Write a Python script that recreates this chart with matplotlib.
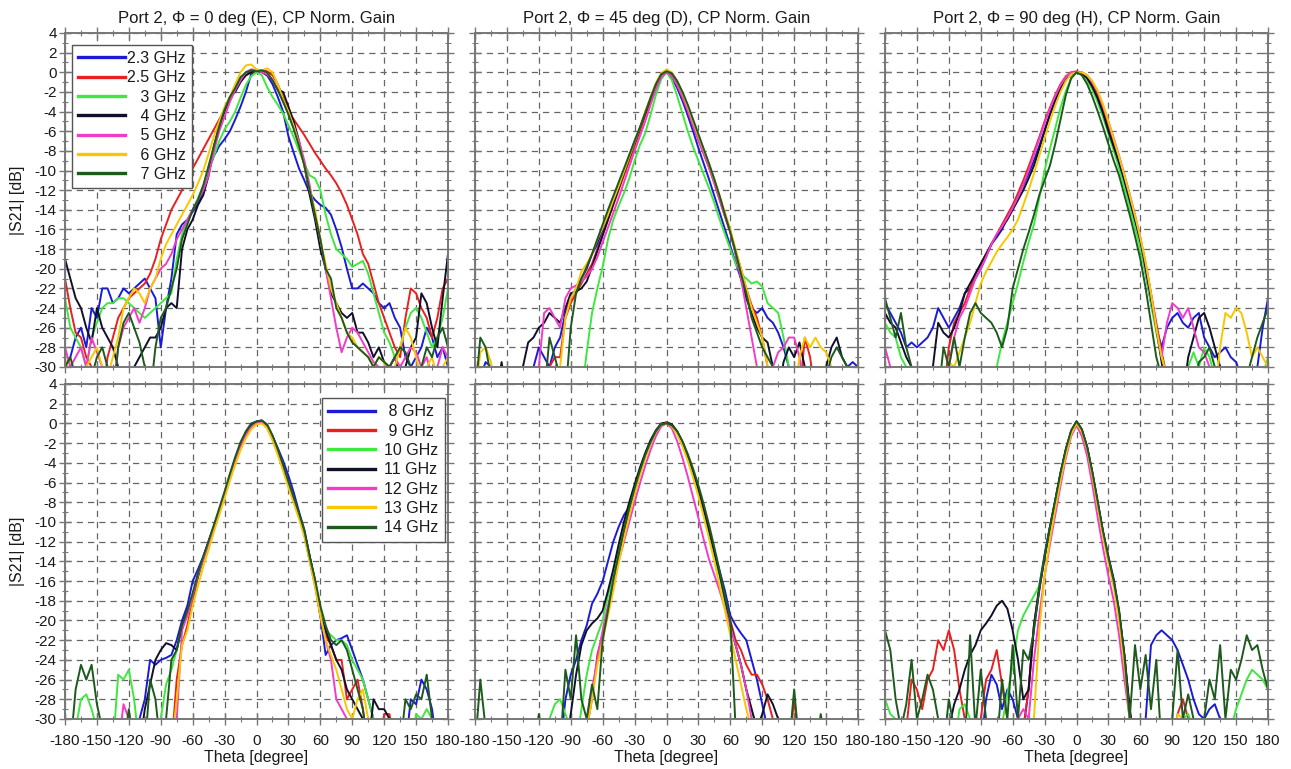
import matplotlib
matplotlib.use('Agg')
import matplotlib.pyplot as plt
from matplotlib.ticker import MultipleLocator

plt.rcParams['font.family'] = ['Liberation Sans', 'DejaVu Sans']
plt.rcParams['axes.unicode_minus'] = False

THETA = list(range(-180, 181, 5))

LOW_LABELS = ['2.3 GHz', '2.5 GHz', '   3 GHz', '   4 GHz', '   5 GHz', '   6 GHz', '   7 GHz']
HIGH_LABELS = [' 8 GHz', ' 9 GHz', '10 GHz', '11 GHz', '12 GHz', '13 GHz', '14 GHz']
COLORS = ['#1a1ad8', '#e82020', '#3ee83e', '#10102a', '#f23cc8', '#f7c800', '#1d5a1d']
TITLES = ['Port 2, \u03a6 = 0 deg (E), CP Norm. Gain',
          'Port 2, \u03a6 = 45 deg (D), CP Norm. Gain',
          'Port 2, \u03a6 = 90 deg (H), CP Norm. Gain']

# ---------------- Phi = 0 (E), 2.3 - 7 GHz ----------------
E23 = [-30, -29, -27, -26, -28, -24, -25, -22, -22, -23.5, -23, -22,
       -22.5, -22, -21.5, -21, -22, -23, -28, -24, -21, -16.5, -15.5, -15,
       -14.2, -13.4, -12, -10, -8.5, -7.5, -6.8, -6, -4.8, -3.5, -2, -0.2,
       0.2, 0.1, -0.3, -1.2, -2.5, -4, -6.5, -8.2, -9.8, -11, -12.3, -13,
       -13.5, -13.8, -14.5, -16, -17.8, -20, -22, -22, -21.5, -22, -22.5, -23.5,
       -24, -23.5, -25, -26, -29, -30, -29, -28, -26, -27, -29, -28, -30]
E25 = [-21, -24, -26.5, -27, -29, -30, -33, -33, -29, -27, -25, -24,
       -23, -22.5, -22, -21.5, -20.5, -19, -17, -15.5, -14, -13, -12, -11,
       -9.8, -8.8, -7.8, -6.8, -5.8, -4.8, -3.8, -2.8, -1.8, -0.9, -0.3, 0,
       0.1, 0.2, 0.1, -0.3, -1.2, -2.6, -4, -4.8, -5.6, -6.4, -7.3, -8.2,
       -9, -9.8, -10.5, -11.3, -12.3, -13.5, -15, -16.5, -18.5, -19.5, -21.5, -23.5,
       -25, -26.5, -28, -29, -25, -22, -22.5, -24, -25, -27, -25, -22, -21]
E3 = [-23, -26, -27, -28, -30, -27, -25.5, -24, -23.5, -23.5, -23, -23,
      -23.5, -24, -24.5, -25, -24.5, -24, -23.5, -23, -22.5, -19, -16.5, -15,
      -14, -12.8, -11.5, -10, -8.5, -7, -5.8, -5, -4, -2.6, -1.3, -0.4,
      0, -0.3, -1.5, -2.5, -3.3, -4.2, -5.4, -6.6, -8, -9.3, -10.5, -10.8,
      -12, -14.5, -16.5, -18, -18.5, -19, -19.8, -19.5, -19.2, -20.5, -22.5, -24.5,
      -26.5, -27.5, -29, -28, -26, -24.5, -24, -25, -26.5, -28, -27, -25, -22]
E4 = [-19, -21, -23, -24, -26, -27.5, -24, -26, -27, -28, -30, -33,
      -33, -30, -29, -28, -27, -27, -26, -24, -23.5, -24, -18, -16,
      -15, -13.5, -12.5, -10.5, -7.5, -5.5, -4, -2.5, -2, -1, -0.3, 0,
      0.2, 0, -0.3, -0.8, -1.8, -2, -3.5, -5, -7, -9.5, -12.5, -15,
      -18, -20, -22.5, -23.5, -24.5, -25, -24.5, -26.5, -26.5, -27.5, -29, -28,
      -29.5, -30, -29, -31, -30, -28, -27, -22.5, -23.5, -26, -28, -23, -18.5]
E5 = [-28, -30, -29, -28, -30, -27, -28.5, -30, -33, -33, -28, -26,
      -25, -24, -25.5, -24, -22, -21, -20, -19.5, -18.5, -17, -16, -15,
      -14, -13, -12, -10.5, -8, -6, -4.5, -3, -1.8, -0.8, 0, 0.3,
      0.2, 0, -0.2, -0.8, -1.8, -3, -4.2, -5.5, -7, -9, -11.5, -14.5,
      -17, -20, -23, -26, -28.5, -27, -26, -26.5, -27.5, -28.5, -29.5, -30,
      -31, -30, -29, -30, -29, -28, -28.5, -30, -29, -31, -30, -28, -29]
E6 = [-29, -31, -33, -33, -30, -29, -28, -30, -31, -29, -27, -24,
      -23, -22, -22.5, -23.5, -22, -21, -19, -17.5, -16.5, -15.5, -14.5, -13.5,
      -12.5, -11.3, -10, -8.3, -6.5, -5, -3.5, -2.5, -1.2, 0, 0.7, 0.8,
      0.3, 0.2, 0.4, 0, -1.2, -2.8, -4, -5.5, -7.5, -9.5, -12, -14,
      -17, -19.5, -22, -23.5, -25, -26.5, -27, -28, -28.5, -29, -30, -29,
      -29.5, -31, -30, -28, -26, -27, -29, -31, -30, -29, -31, -30, -29]
E7 = [-30, -29, -31, -33, -33, -31, -29, -28, -30, -33, -28, -25.5,
      -24.5, -26, -27.5, -30, -33, -28, -25, -24, -22, -20, -17, -15.5,
      -14, -13, -11.5, -9.5, -7.5, -5.5, -3.8, -2.5, -1.6, -0.5, 0, 0.2,
      0.1, 0.2, 0, -0.8, -1.8, -3, -4.3, -5.8, -7.5, -9.5, -12, -14.5,
      -17, -20, -21, -24, -25, -26.5, -27.5, -28, -28.5, -29, -30, -29,
      -29.5, -30, -29, -28, -28.5, -30, -31, -30, -28, -29, -27, -26, -28]

# ---------------- Phi = 0 (E), 8 - 14 GHz ----------------
E8 = [-33, -33, -33, -33, -33, -33, -33, -33, -33, -33, -33, -33,
      -33, -33, -30, -28, -24, -24.5, -24, -23.8, -23.5, -22, -20, -18.5,
      -16, -14.8, -13.5, -12, -10.5, -9, -7.3, -5.5, -3.8, -2.3, -1.1, -0.3,
      0.1, 0.2, -0.3, -1.3, -2.5, -3.8, -5.3, -7, -9, -10.8, -13.5, -16,
      -19.5, -23.5, -22.5, -22, -21.8, -21.5, -23, -24.5, -26, -28, -30, -33,
      -33, -33, -33, -33, -33, -28, -28.5, -26, -27, -29, -33, -33, -33]
E9 = [-33, -33, -33, -33, -33, -33, -33, -33, -33, -33, -33, -33,
      -33, -33, -33, -33, -33, -33, -33, -33, -33, -26, -22.5, -20.5,
      -18, -15.6, -13.8, -12.2, -10.6, -9, -7.4, -5.6, -4, -2.5, -1.3, -0.5,
      0, 0.1, -0.4, -1.6, -3, -4.6, -6.3, -7.9, -9.5, -11.3, -13.8, -16.2,
      -19.5, -21.5, -22.5, -24, -24, -28, -27, -26, -29, -33, -33, -33,
      -29.5, -29.5, -33, -33, -33, -33, -33, -33, -33, -33, -33, -33, -33]
E10 = [-33, -33, -31, -28, -27.5, -29, -31, -33, -33, -33, -25.5, -26,
       -25, -28, -33, -33, -33, -33, -30, -26.5, -25, -23, -20.5, -19.5,
       -17.5, -15.5, -13.8, -12.2, -10.5, -8.8, -7.2, -5.4, -3.8, -2.3, -1.1, -0.3,
       0.1, 0.2, -0.3, -1.4, -2.8, -4.4, -6.1, -7.7, -9.3, -11, -13.5, -16,
       -19, -21, -21.5, -22, -22, -22.5, -24, -25, -26, -28, -30, -33,
       -33, -33, -33, -33, -33, -33, -29.5, -30, -29, -30, -33, -33, -33]
E11 = [-33, -33, -33, -33, -33, -33, -33, -33, -33, -33, -33, -33,
       -33, -33, -33, -29, -26.5, -24, -23, -22.3, -22.5, -23, -20.5, -19,
       -17.5, -15.5, -13.6, -12, -10.4, -8.8, -7.1, -5.3, -3.6, -2.1, -0.9, -0.1,
       0.2, 0.3, -0.2, -1.3, -2.7, -4.3, -6, -7.6, -9.2, -11, -13.5, -16,
       -19.5, -21, -22.5, -24, -25, -27, -28, -29, -30, -33, -28, -29,
       -29, -30, -33, -33, -33, -33, -33, -33, -33, -33, -33, -33, -33]
E12 = [-33, -33, -33, -33, -33, -33, -33, -33, -33, -33, -33, -28.5,
       -30, -33, -33, -33, -33, -33, -33, -33, -33, -30, -21, -19.5,
       -17.5, -15.4, -13.8, -12.2, -10.6, -9, -7.3, -5.5, -3.9, -2.4, -1.2, -0.4,
       0, 0.1, -0.4, -1.6, -3, -4.6, -6.3, -7.9, -9.5, -11.3, -14, -16.5,
       -19.5, -22, -24, -28, -29, -30, -33, -33, -33, -33, -33, -33,
       -33, -33, -33, -33, -33, -33, -33, -33, -33, -33, -33, -33, -33]
E13 = [-33, -33, -33, -33, -33, -33, -33, -33, -33, -33, -33, -33,
       -33, -33, -33, -33, -33, -33, -30, -33, -33, -28, -22.5, -21,
       -18.5, -16.5, -14.5, -12.8, -11, -9.3, -7.6, -5.8, -4.2, -2.7, -1.5, -0.6,
       -0.1, 0, -0.5, -1.7, -3.2, -4.8, -6.5, -8.1, -9.7, -11.5, -14, -16.5,
       -19.5, -22, -23.5, -25, -27, -29, -30, -28, -27, -30, -33, -33,
       -33, -33, -33, -33, -33, -33, -33, -33, -33, -33, -33, -33, -33]
E14 = [-33, -33, -27, -24.5, -26, -24.5, -28.5, -31, -33, -33, -33, -33,
       -29, -33, -33, -33, -26, -28, -33, -30, -24, -23, -20.5, -19,
       -17.2, -15.2, -13.5, -11.9, -10.3, -8.6, -6.9, -5.1, -3.4, -1.9, -0.8, 0,
       0.2, 0.3, -0.1, -1.2, -2.6, -4.2, -5.9, -7.5, -9.1, -10.9, -13.5, -15.8,
       -18.5, -20.5, -22, -22.5, -22, -23, -25, -27, -29, -33, -33, -33,
       -33, -33, -33, -33, -28, -29, -27.5, -28, -25.5, -30, -33, -33, -33]

# ---------------- Phi = 45 (D), 2.3 - 7 GHz ----------------
D23 = [-33, -31, -29.5, -30, -33, -33, -33, -33, -33, -33, -33, -30,
       -28, -29, -30, -28, -27, -24.5, -23, -22, -21, -20, -18.5, -17.5,
       -16, -14.5, -13, -11.5, -10, -8.5, -7, -5.7, -4.3, -3, -1.7, -0.5,
       0, -0.5, -1.6, -2.9, -4.4, -6, -7.7, -9.3, -10.9, -12.6, -14.3, -16,
       -17.7, -19.4, -21, -22.5, -24, -24.5, -24, -25, -25.5, -26.5, -28, -30,
       -33, -33, -33, -33, -33, -33, -33, -33, -33, -31, -30, -29.5, -30]
D25 = [-33, -33, -33, -33, -33, -33, -33, -33, -33, -33, -33, -33,
       -33, -33, -30, -29, -29, -25, -23.5, -22.5, -21.5, -20.5, -19.5, -18,
       -16.5, -15, -13.5, -12, -10.5, -9, -7.5, -6, -4.4, -2.8, -1.4, -0.3,
       0.1, -0.3, -1.3, -2.5, -3.9, -5.4, -6.9, -8.3, -9.7, -11.3, -13, -14.7,
       -16.3, -18.2, -20, -22, -23.7, -25, -27, -30, -33, -33, -33, -33,
       -33, -33, -27, -29, -33, -33, -33, -33, -33, -33, -33, -33, -33]
D3 = [-33, -33, -33, -33, -33, -33, -33, -33, -33, -33, -33, -33,
      -33, -33, -33, -33, -33, -33, -33, -33, -33, -28.5, -24.5, -22,
      -19.8, -17, -15, -13.6, -12.3, -10.8, -9, -7.4, -6.2, -4.3, -2.3, -0.7,
      0, -0.8, -2.4, -4.2, -6, -7.6, -9, -10.4, -11.8, -13.3, -15, -16.5,
      -18, -19.5, -20.5, -21, -21.5, -21.3, -21.8, -23.5, -24, -24.5, -27, -30,
      -33, -33, -33, -33, -33, -33, -33, -33, -33, -33, -33, -33, -33]
D4 = [-33, -33, -33, -33, -33, -29.5, -33, -33, -33, -30, -27.5, -27,
      -26, -25.5, -24.5, -25, -25.5, -24, -22.5, -22.3, -22, -21.3, -19.8, -18.2,
      -16.6, -15, -13.4, -11.8, -10.2, -8.7, -7.2, -5.7, -4.2, -2.7, -1.3, -0.2,
      0.2, -0.1, -0.9, -2.1, -3.5, -5, -6.5, -8, -9.5, -11.1, -12.8, -14.5,
      -16.2, -18.5, -21, -23, -24.5, -26, -27, -27.5, -30, -33, -29.5, -28,
      -29, -27.5, -30, -33, -33, -31, -30, -28, -27, -29, -30, -33, -33]
D5 = [-33, -33, -33, -33, -33, -33, -33, -33, -33, -33, -33, -33,
      -30, -24.5, -24, -25, -26, -23, -22, -21.7, -21.3, -20.8, -20, -18.8,
      -17.3, -15.8, -14.3, -12.8, -11.2, -9.6, -8, -6.5, -5, -3.3, -1.7, -0.5,
      0, -0.4, -1.3, -2.5, -3.9, -5.4, -6.9, -8.3, -9.7, -11.3, -13, -14.7,
      -16.3, -18.5, -21, -24, -27, -30, -33, -33, -30, -28.5, -28, -27,
      -27, -29, -33, -33, -33, -33, -33, -33, -33, -33, -33, -33, -33]
D6 = [-33, -28.5, -28, -29.5, -33, -33, -33, -33, -33, -33, -33, -33,
      -33, -33, -33, -33, -30, -25, -23, -22, -20.3, -19.5, -18.5, -17,
      -15.8, -14.5, -13, -11.6, -10.1, -8.6, -7.1, -5.6, -4, -2.5, -1.1, -0.1,
      0.3, 0, -0.9, -2.1, -3.5, -5, -6.5, -7.9, -9.3, -10.9, -12.6, -14.3,
      -16, -18, -20, -22, -24, -25.5, -27, -30, -33, -33, -33, -33,
      -33, -29, -27, -28, -27, -28, -28.5, -30, -33, -33, -33, -33, -33]
D7 = [-33, -27, -28, -31, -33, -33, -33, -33, -33, -33, -33, -33,
      -30, -33, -27, -29, -31, -33, -26, -22.5, -21, -19.8, -18.5, -17,
      -15.5, -14, -12.6, -11.2, -9.8, -8.4, -7, -5.6, -4.1, -2.6, -1.2, -0.2,
      0.1, -0.1, -0.9, -2, -3.3, -4.8, -6.3, -7.8, -9.3, -10.9, -12.6, -14.5,
      -16.3, -18.3, -20.5, -22.5, -25, -26.5, -28, -29, -30, -33, -33, -33,
      -33, -33, -33, -33, -33, -33, -31, -29, -28, -29, -30, -33, -33]

# ---------------- Phi = 45 (D), 8 - 14 GHz ----------------
D8 = [-33, -33, -33, -33, -33, -33, -33, -33, -33, -33, -33, -33,
      -33, -33, -33, -33, -33, -28, -25.5, -24, -22, -20.5, -18.3, -17.3,
      -16, -14, -12, -10.5, -9.3, -8.5, -6.8, -5, -3.4, -2, -0.9, -0.2,
      0, -0.2, -0.9, -2, -3.4, -5, -6.8, -8.8, -11, -13, -15, -17,
      -19.5, -20.5, -21.3, -22, -24, -26, -28.5, -31, -33, -33, -33, -33,
      -33, -33, -33, -33, -33, -33, -33, -33, -33, -33, -33, -33, -33]
D9 = [-33, -33, -33, -33, -33, -33, -33, -33, -33, -33, -33, -33,
      -33, -33, -33, -33, -33, -33, -33, -33, -33, -31, -28, -23.5,
      -21.3, -19, -16, -13.5, -11, -8.8, -6.8, -5, -3.4, -2, -0.9, -0.2,
      0.1, -0.1, -0.8, -1.9, -3.3, -4.9, -6.7, -8.7, -10.9, -13.2, -15.4, -18,
      -20, -22, -23, -24.5, -25.5, -25.5, -26.5, -28, -30, -33, -33, -33,
      -28, -33, -33, -33, -33, -33, -33, -33, -33, -33, -33, -33, -33]
D10 = [-33, -33, -33, -33, -33, -33, -33, -33, -33, -33, -33, -33,
       -33, -33, -30, -28.5, -28, -29.5, -31, -33, -29, -25.5, -23, -21.5,
       -20, -17.5, -15.3, -12.8, -10.5, -8.5, -6.6, -4.8, -3.2, -1.9, -0.8, -0.1,
       0, -0.2, -0.9, -2, -3.4, -5, -6.8, -8.8, -11, -13.3, -15.5, -18,
       -20.5, -22.5, -24.5, -27, -29, -31, -33, -33, -33, -33, -33, -33,
       -33, -33, -33, -33, -33, -33, -33, -33, -33, -33, -33, -33, -33]
D11 = [-33, -33, -33, -33, -33, -33, -33, -33, -33, -33, -33, -33,
       -33, -33, -33, -33, -33, -33, -29.5, -25.5, -22.5, -21, -20.3, -19.8,
       -19, -17, -14.8, -12.3, -10, -8, -6.2, -4.5, -3, -1.7, -0.7, 0,
       0.1, -0.1, -0.8, -1.9, -3.3, -4.9, -6.7, -8.7, -10.9, -13.1, -15.3, -17.8,
       -20.3, -22.5, -24.5, -27, -29, -31, -29.5, -27.5, -28.5, -30, -33, -33,
       -33, -33, -33, -33, -33, -33, -33, -33, -33, -33, -33, -33, -33]
D12 = [-33, -33, -33, -33, -33, -33, -33, -33, -33, -33, -33, -33,
       -33, -33, -33, -33, -33, -33, -33, -33, -33, -30, -27, -24,
       -21, -18.5, -16.2, -14, -12, -10, -8, -6.1, -4.3, -2.7, -1.3, -0.3,
       0, -0.5, -1.8, -3.5, -5.4, -7.5, -9.6, -11.8, -13.8, -15.4, -17, -18.8,
       -20.6, -22.5, -24.5, -27, -30, -33, -33, -33, -33, -33, -33, -33,
       -33, -33, -33, -33, -33, -33, -33, -33, -33, -33, -33, -33, -33]
D13 = [-33, -33, -33, -33, -33, -33, -33, -33, -33, -33, -33, -33,
       -33, -33, -33, -33, -33, -33, -33, -33, -33, -31, -28, -24.5,
       -22, -19.5, -17, -14.2, -11.7, -9.4, -7.2, -5.3, -3.6, -2.1, -0.9, -0.1,
       0, -0.3, -1.1, -2.3, -3.8, -5.5, -7.4, -9.5, -11.7, -14, -16.5, -19,
       -21.5, -24, -26.5, -29, -31, -33, -33, -33, -33, -33, -33, -33,
       -33, -33, -33, -33, -33, -33, -33, -33, -33, -33, -33, -33, -33]
D14 = [-33, -26, -31, -33, -33, -33, -33, -33, -33, -33, -33, -33,
       -29.5, -33, -33, -33, -33, -25, -28, -21.5, -28, -30, -26.5, -29,
       -22, -19, -15.8, -13.3, -10.8, -8.6, -6.6, -4.8, -3.2, -1.9, -0.8, -0.1,
       0, -0.2, -0.8, -1.8, -3.1, -4.6, -6.3, -8.2, -10.3, -12.6, -15, -17.5,
       -20, -31, -33, -33, -33, -33, -33, -33, -33, -33, -33, -33,
       -27, -33, -33, -33, -33, -29.5, -33, -33, -33, -33, -33, -33, -33]

# ---------------- Phi = 90 (H), 2.3 - 7 GHz ----------------
H23 = [-23.5, -24.5, -25.5, -26.5, -28, -27.5, -28, -27.5, -27, -26, -24, -25,
       -26, -25, -24, -22.5, -22, -21, -20, -18.8, -17.5, -16.8, -16, -14.8,
       -13.7, -12.5, -11.5, -10.3, -9, -7.5, -5.9, -4.3, -2.9, -1.7, -0.8, -0.2,
       0, -0.1, -0.6, -1.4, -2.5, -4, -5.7, -7.4, -9.1, -11, -13, -15.2,
       -17.5, -20.5, -23.5, -26, -28, -26, -25, -24.5, -25.5, -26, -25, -24.5,
       -27, -28, -29, -28.5, -28, -29, -29.5, -31, -33, -33, -30, -26, -23]
H25 = [-33, -33, -33, -33, -33, -33, -33, -33, -33, -33, -33, -33,
       -28, -25.5, -24.5, -23.5, -22, -20.5, -19.5, -18.5, -17.5, -16.5, -15.5, -14.5,
       -13.5, -12.3, -11, -9.6, -8.1, -6.6, -5, -3.6, -2.3, -1.2, -0.4, 0,
       0.1, 0, -0.4, -1.1, -2.2, -3.6, -5.3, -7, -8.8, -10.7, -12.7, -14.8,
       -17, -19.5, -22.5, -25.5, -28.5, -31, -33, -33, -33, -33, -33, -33,
       -33, -33, -33, -33, -33, -33, -33, -33, -33, -33, -33, -33, -33]
H3 = [-25.5, -26.5, -27, -29, -30, -33, -33, -33, -33, -33, -33, -33,
      -33, -33, -33, -33, -33, -33, -33, -33, -33, -30, -27.5, -25.5,
      -23.5, -21.5, -19.3, -17.3, -15.5, -12.8, -10, -7.8, -5.7, -3.6, -1.9, -0.6,
      0, -0.2, -0.8, -1.8, -3.1, -4.6, -6.3, -8, -9.8, -11.7, -13.7, -15.8,
      -18, -20.5, -23.5, -26.5, -29, -31, -33, -33, -33, -30, -28.5, -30,
      -28, -29, -31, -33, -33, -33, -33, -33, -33, -33, -33, -31, -29]
H4 = [-24.5, -25.5, -26, -27.5, -29, -30, -31, -33, -33, -30, -25.5, -26.5,
      -27, -26, -24.5, -22.5, -21.5, -20.5, -19.5, -18.5, -17.5, -16.6, -15.8, -15,
      -14, -13, -12, -10.8, -9.5, -7.8, -6, -4.3, -2.8, -1.6, -0.7, -0.1,
      0, -0.1, -0.6, -1.5, -2.7, -4.2, -6, -7.6, -9.2, -11, -13, -15,
      -17, -20, -23, -26, -29.5, -33, -33, -33, -33, -29, -27, -25,
      -24.5, -26, -28, -30, -33, -33, -33, -33, -33, -33, -33, -33, -33]
H5 = [-28, -30, -33, -33, -33, -33, -33, -33, -33, -33, -33, -33,
      -30, -27, -25, -24, -22.5, -21, -20, -18.8, -17.5, -16.5, -15.7, -14.8,
      -13.8, -12.7, -11.4, -10, -8.4, -6.8, -5.2, -3.7, -2.4, -1.3, -0.5, 0,
      0, 0, -0.3, -1, -2, -3.4, -5, -6.7, -8.5, -10.4, -12.4, -14.5,
      -16.8, -19.5, -22.5, -26, -29, -25.5, -23.5, -24, -25, -24, -26, -28,
      -28.5, -30, -33, -33, -33, -33, -33, -33, -33, -33, -33, -33, -33]
H6 = [-33, -33, -33, -33, -33, -33, -33, -33, -33, -33, -33, -33,
      -29.5, -30, -28.5, -27, -25.5, -23.5, -21.5, -20.3, -19.3, -18.3, -17.5, -16.8,
      -16, -15, -13.5, -12, -10.3, -8.5, -6.7, -5, -3.4, -2, -0.9, -0.2,
      0, 0, -0.3, -0.9, -1.9, -3.3, -5, -6.8, -8.6, -10.5, -12.5, -14.6,
      -16.8, -19.3, -22.5, -26, -29, -31, -33, -33, -33, -33, -33, -33,
      -33, -33, -33, -28, -24.5, -25, -24, -24.5, -26.5, -29, -28, -29, -30]
H7 = [-23, -25, -27, -24.5, -28, -30, -33, -33, -33, -33, -33, -28,
      -30, -27, -30, -27, -24.5, -23.5, -24.5, -25, -25.5, -26.5, -28, -26,
      -22, -20, -18, -16.3, -14.5, -12.5, -11, -9.5, -7.3, -4.8, -2.3, -0.6,
      0, -0.3, -1.2, -2.5, -4, -5.6, -7.3, -9, -10.5, -12.5, -14.5, -16.7,
      -19, -22, -25.5, -29, -31, -33, -33, -33, -33, -33, -33, -29.5,
      -29, -28, -30, -33, -33, -33, -33, -33, -31, -29, -27, -25.5, -24]

# ---------------- Phi = 90 (H), 8 - 14 GHz ----------------
H8 = [-33, -33, -33, -33, -33, -33, -33, -33, -33, -33, -33, -33,
      -33, -33, -33, -33, -33, -33, -33, -28, -25.5, -26.5, -29, -27,
      -28, -30, -31, -27, -20.5, -16.5, -13.3, -10.5, -7.8, -5, -2.6, -0.8,
      0.1, -0.7, -2.4, -5, -8, -11, -13.5, -15.8, -19, -23.5, -29, -33,
      -33, -30, -22.5, -21.5, -21, -21.5, -22, -23, -24.5, -26, -28, -29.5,
      -30, -29, -28.5, -30, -33, -33, -33, -33, -33, -33, -33, -33, -33]
H9 = [-33, -33, -33, -33, -31, -26, -27, -29, -26, -25, -22, -23,
      -21, -23, -27, -30, -33, -33, -30, -26, -25, -23, -26.5, -30,
      -33, -33, -31, -27, -20.7, -17, -13.6, -10.6, -7.9, -5.1, -2.7, -0.8,
      0.2, -0.7, -2.5, -5.2, -8.2, -11.2, -13.8, -16, -19.3, -23.7, -29.5, -33,
      -33, -33, -33, -33, -33, -33, -33, -29.5, -28, -30, -33, -33,
      -33, -33, -33, -33, -33, -33, -33, -33, -33, -33, -33, -33, -33]
H10 = [-28, -29.5, -30, -31, -33, -33, -33, -33, -33, -33, -33, -33,
       -33, -33, -29, -28.5, -30, -33, -33, -33, -33, -33, -30.5, -27.5,
       -24.5, -21, -19.5, -18.5, -17.5, -16.5, -13.6, -10.7, -8, -5.2, -2.8, -0.9,
       0, -0.8, -2.6, -5.3, -8.3, -11.3, -13.9, -16.3, -19.8, -24.5, -30, -33,
       -33, -33, -33, -33, -33, -33, -33, -31, -30, -29.5, -31, -30,
       -30.5, -31, -33, -33, -33, -31, -29, -27.5, -26, -25, -25.5, -26, -27]
H11 = [-33, -33, -33, -33, -33, -33, -33, -33, -33, -33, -33, -33,
       -31, -28.5, -27, -25, -23.5, -22.5, -21, -20.3, -19.5, -18.5, -18, -18.8,
       -21, -24, -28, -27, -20.5, -16.8, -13.6, -10.6, -7.9, -5.1, -2.7, -0.8,
       0.2, -0.6, -2.4, -5.1, -8.1, -11.1, -13.7, -16, -19.2, -23.5, -29, -33,
       -33, -33, -33, -33, -33, -33, -33, -33, -33, -33, -33, -33,
       -33, -33, -33, -33, -33, -33, -33, -33, -33, -33, -33, -33, -33]
H12 = [-33, -33, -33, -33, -33, -33, -33, -33, -33, -33, -33, -33,
       -33, -33, -33, -33, -33, -33, -33, -33, -33, -33, -33, -33,
       -33, -30, -29, -30, -24, -19.5, -15.5, -12.3, -9.3, -6.3, -3.5, -1.3,
       -0.2, -1.3, -3.3, -6.3, -9.6, -12.7, -15.5, -18, -21.5, -26, -30, -33,
       -33, -33, -33, -33, -33, -33, -33, -30, -33, -33, -33, -33,
       -33, -33, -33, -33, -33, -33, -33, -33, -33, -33, -33, -33, -33]
H13 = [-33, -33, -33, -33, -33, -33, -33, -33, -33, -33, -33, -33,
       -33, -33, -33, -33, -33, -33, -33, -33, -33, -33, -33, -33,
       -33, -33, -33, -33, -30, -21, -15.5, -11.8, -8.7, -5.8, -3.2, -1.1,
       0, -0.8, -2.6, -5.4, -8.5, -11.5, -14.2, -16.6, -20, -24.5, -30, -33,
       -33, -33, -33, -33, -33, -33, -33, -29.5, -30, -33, -33, -33,
       -33, -33, -33, -33, -33, -33, -33, -33, -33, -33, -33, -33, -33]
H14 = [-21, -23, -28, -31, -28.5, -24, -30, -28, -25.5, -27, -30, -33,
       -28, -31, -33, -33, -21.5, -31, -25, -30, -33, -33, -26, -30,
       -22.5, -30, -23, -24, -21, -16.8, -13.5, -10.5, -7.8, -5, -2.6, -0.7,
       0.2, -0.6, -2.4, -5, -8, -11, -13.6, -16, -19, -23.5, -30, -22.5,
       -27, -23.5, -29, -24, -33, -33, -30, -23, -30, -27.5, -30, -33,
       -30, -26, -28, -22.5, -30, -25, -26, -24, -21.5, -23, -22.5, -25, -27]

PANELS = [
    [[E23, E25, E3, E4, E5, E6, E7], [D23, D25, D3, D4, D5, D6, D7], [H23, H25, H3, H4, H5, H6, H7]],
    [[E8, E9, E10, E11, E12, E13, E14], [D8, D9, D10, D11, D12, D13, D14], [H8, H9, H10, H11, H12, H13, H14]],
]

for r in PANELS:
    for c in r:
        for s in c:
            if len(s) != len(THETA):
                raise ValueError('bad length %d' % len(s))

W, H = 1291, 769
fig = plt.figure(figsize=(W / 100, H / 100), dpi=100)
lefts = [65, 475, 885]
aw = 383
rows = [(33, 367), (384, 719)]

SPINE = '#777777'
GRID = '#666666'
TXT = '#1a1a1a'

for ri, (top, bot) in enumerate(rows):
    for ci, lx in enumerate(lefts):
        ax = fig.add_axes([lx / W, 1 - bot / H, aw / W, (bot - top) / H])
        series = PANELS[ri][ci]
        labels = LOW_LABELS if ri == 0 else HIGH_LABELS
        for s, col, lab in zip(series, COLORS, labels):
            ax.plot(THETA, s, color=col, lw=1.4, label=lab, solid_joinstyle='round')
        ax.set_xlim(-180, 180)
        ax.set_ylim(-30, 4)
        ax.xaxis.set_major_locator(MultipleLocator(30))
        ax.xaxis.set_minor_locator(MultipleLocator(15))
        ax.yaxis.set_major_locator(MultipleLocator(2))
        ax.yaxis.set_minor_locator(MultipleLocator(1))
        ax.grid(True, which='major', color=GRID, lw=0.9, ls=(0, (5, 4)))
        ax.tick_params(which='both', direction='inout', top=True, right=True,
                       color=SPINE, labelsize=11, labelcolor=TXT)
        ax.tick_params(which='major', length=8, width=1.0)
        ax.tick_params(which='minor', length=5, width=0.8)
        ax.tick_params(axis='x', pad=7)
        ax.tick_params(axis='y', pad=2)
        for sp in ax.spines.values():
            sp.set_color(SPINE)
            sp.set_linewidth(1.4)
        if ci == 0:
            ax.set_ylabel('|S21| [dB]', fontsize=11.5, color=TXT, labelpad=7)
        else:
            ax.tick_params(axis='y', labelleft=False)
        if ri == 1:
            ax.set_xlabel('Theta [degree]', fontsize=11.5, color=TXT, labelpad=1)
        else:
            ax.tick_params(axis='x', labelbottom=False)
            ax.set_title(TITLES[ci], fontsize=12, color=TXT, pad=7)
        if ci == 0:
            if ri == 0:
                leg = ax.legend(loc='upper left', bbox_to_anchor=(0.018, 0.965),
                                borderaxespad=0, fontsize=11.5, handlelength=2.9,
                                handletextpad=0.15, labelspacing=0.27, fancybox=False,
                                edgecolor='#555555', framealpha=1, borderpad=0.4)
            else:
                leg = ax.legend(loc='upper right', bbox_to_anchor=(0.992, 0.958),
                                borderaxespad=0, fontsize=11.5, handlelength=2.9,
                                handletextpad=0.6, labelspacing=0.27, fancybox=False,
                                edgecolor='#555555', framealpha=1, borderpad=0.4)
            leg.get_frame().set_linewidth(1.0)
            for ln in leg.get_lines():
                ln.set_linewidth(2.4)
            for t in leg.get_texts():
                t.set_color(TXT)

fig.savefig('out.png', dpi=100)
